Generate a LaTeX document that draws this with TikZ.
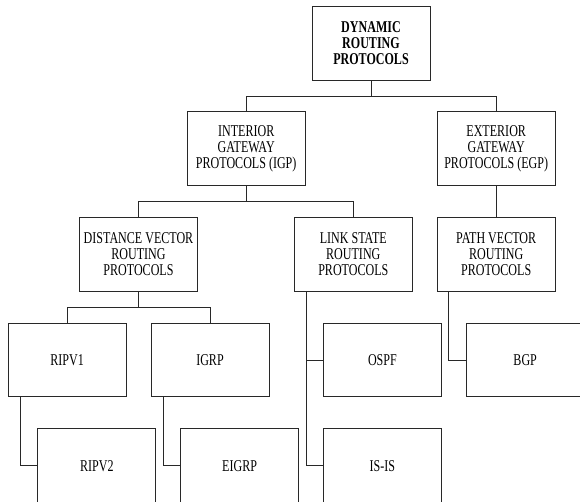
\documentclass[tikz,border=0pt]{standalone}
\usepackage{fontspec}
\setmainfont{Liberation Serif}[FakeStretch=0.73]
\definecolor{ln}{RGB}{40,40,40}
\begin{document}
\begin{tikzpicture}[x=1pt,y=-1pt,
  box/.style={draw=ln,line width=1pt,minimum width=118pt,minimum height=74pt,
    inner sep=0pt,align=center,font=\fontsize{16.5}{16}\selectfont,fill=white},
  conn/.style={draw=ln,line width=1pt}]
\useasboundingbox (0,0) rectangle (580,501);
\clip (0,0) rectangle (580,501);
\node[box,font=\fontsize{16.5}{16}\selectfont\bfseries] (root) at (371,43.2) {DYNAMIC\\ROUTING\\PROTOCOLS};
\node[box] (igp) at (246.2,148.7) {INTERIOR\\GATEWAY\\PROTOCOLS (IGP)};
\node[box] (egp) at (496.2,148.7) {EXTERIOR\\GATEWAY\\PROTOCOLS (EGP)};
\node[box] (dv) at (138.5,254.2) {DISTANCE VECTOR\\ROUTING\\PROTOCOLS};
\node[box] (ls) at (353.3,254.2) {LINK STATE\\ROUTING\\PROTOCOLS};
\node[box] (pv) at (496.2,254.2) {PATH VECTOR\\ROUTING\\PROTOCOLS};
\node[box,minimum height=73.4pt] (ripv1) at (67.1,360) {RIPV1};
\node[box,minimum height=73.4pt] (igrp) at (210,360) {IGRP};
\node[box,minimum height=73.4pt] (ospf) at (382.4,360) {OSPF};
\node[box,minimum height=73.4pt] (bgp) at (525.2,360) {BGP};
\node[box,minimum height=75pt] (ripv2) at (96.8,465.8) {RIPV2};
\node[box,minimum height=75pt] (eigrp) at (239.6,465.8) {EIGRP};
\node[box,minimum height=75pt] (isis) at (382.4,465.8) {IS-IS};
\coordinate (j1) at (371,96.7);
\coordinate (j2) at (246.2,201.3);
\coordinate (j3) at (138.5,307.3);
\draw[conn] (root.south) -- (j1);
\draw[conn] (igp.north) |- (j1) -| (egp.north);
\draw[conn] (igp.south) -- (j2);
\draw[conn] (dv.north) |- (j2) -| (ls.north);
\draw[conn] (egp.south) -- (pv.north);
\draw[conn] (dv.south) -- (j3);
\draw[conn] (ripv1.north) |- (j3) -| (igrp.north);
\draw[conn] ([xshift=-46.8pt]ripv1.south) |- (ripv2.west);
\draw[conn] ([xshift=-46.8pt]igrp.south) |- (eigrp.west);
\draw[conn] ([xshift=-47pt]ls.south) |- (ospf.west);
\draw[conn] ([xshift=-47pt]ls.south) |- (isis.west);
\draw[conn] ([xshift=-47.4pt]pv.south) |- (bgp.west);
\end{tikzpicture}
\end{document}
